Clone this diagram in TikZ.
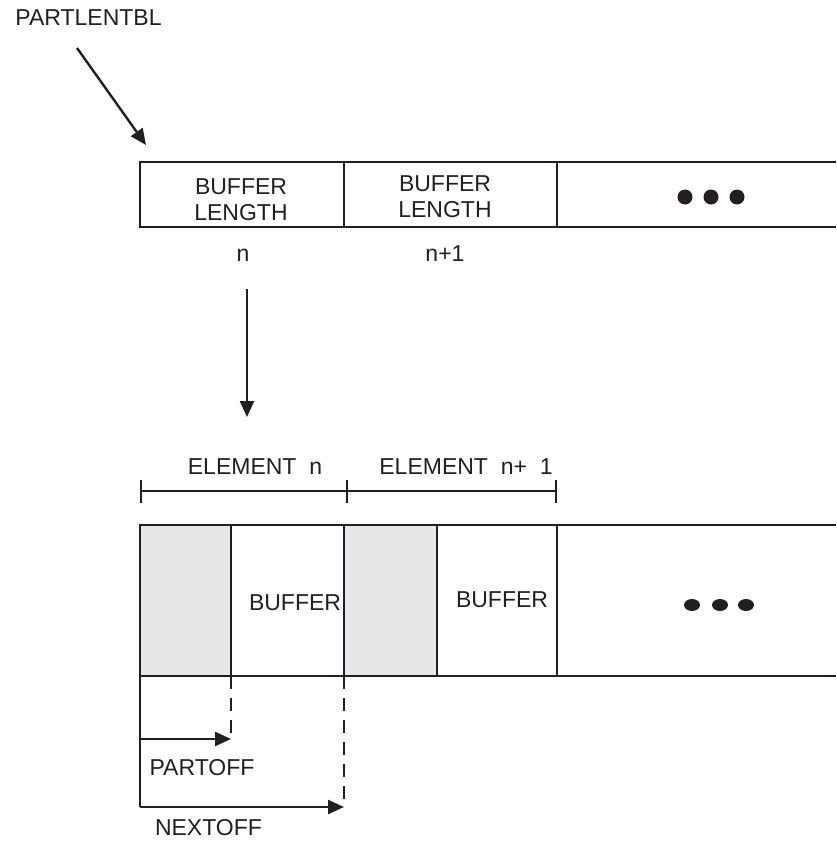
\documentclass[tikz,border=0pt]{standalone}
\usepackage{fontspec}
\setmainfont{Liberation Sans}
\usetikzlibrary{arrows.meta,shapes.geometric}
\definecolor{ink}{HTML}{231F20}
\definecolor{cellgray}{HTML}{E6E7E8}
\tikzset{
  lbl/.style={font=\fontsize{23}{26}\selectfont, inner sep=0pt, align=center, text=ink},
  ln/.style={line width=2.4pt, draw=ink},
  arr/.style={ln, -{Triangle[length=16pt,width=14pt]}},
  dsh/.style={line width=2.4pt, draw=ink, dash pattern=on 13pt off 9pt},
  bigdot/.style={circle, fill=ink, inner sep=0pt, minimum size=15pt},
  flatdot/.style={ellipse, fill=ink, inner sep=0pt, minimum width=16pt, minimum height=12pt},
}
\begin{document}
\begin{tikzpicture}[x=1pt,y=-1pt]
\useasboundingbox (0,0) rectangle (836,843);

% ---- top table ----
\node[lbl] (ptbl) at (88.5,18) {PARTLENTBL};
\coordinate (pa) at (77,48);
\coordinate (pb) at (146,145);
\draw[arr] (pa) -- (pb);

\draw[ln] (836,162) -- (140,162) -- (140,227) -- (836,227);
\draw[ln] (344,162) -- (344,227);
\draw[ln] (557,162) -- (557,227);

\node[lbl] (bl1) at (241,200) {BUFFER\\LENGTH};
\node[lbl] (bl2) at (445,197) {BUFFER\\LENGTH};
\node[bigdot] (td1) at (685,197) {};
\node[bigdot] (td2) at (711,197) {};
\node[bigdot] (td3) at (737,197) {};

\node[lbl, anchor=base] (nlab) at (243,261) {n};
\node[lbl, anchor=base] (n1lab) at (445,261) {n+1};

\coordinate (va) at (247,289);
\coordinate (vb) at (247,417);
\draw[arr] (va) -- (vb);

% ---- element brackets ----
\node[lbl, anchor=base] (el1) at (255,474) {ELEMENT\ \ n};
\node[lbl, anchor=base] (el2) at (466,474) {ELEMENT\ \ n+\ \ 1};
\coordinate (b0) at (141,491);
\coordinate (b1) at (347,491);
\coordinate (b2) at (556,491);
\draw[ln] (b0) -- (b2);
\draw[ln] (141,480) -- (141,503);
\draw[ln] (347,480) -- (347,503);
\draw[ln] (556,480) -- (556,503);

% ---- bottom table ----
\fill[cellgray] (140,525) rectangle (231,676);
\fill[cellgray] (344,525) rectangle (437,676);
\draw[ln] (836,525) -- (140,525) -- (140,676) -- (836,676);
\draw[ln] (231,525) -- (231,676);
\draw[ln] (344,525) -- (344,676);
\draw[ln] (437,525) -- (437,676);
\draw[ln] (557,525) -- (557,676);

\node[lbl] (buf1) at (295,603) {BUFFER};
\node[lbl] (buf2) at (502,600) {BUFFER};
\node[flatdot] (bd1) at (692,605) {};
\node[flatdot] (bd2) at (720,605) {};
\node[flatdot] (bd3) at (746,605) {};

% ---- offsets ----
\coordinate (o0) at (140,676);
\coordinate (o1) at (140,739);
\coordinate (o2) at (140,807);
\coordinate (p1) at (231,739);
\coordinate (p2) at (344,807);
\draw[ln] (o0) -- (o2);
\draw[arr] (o1) -- (p1);
\draw[arr] (o2) -- (p2);
\draw[dsh] (231,676) -- (p1);
\draw[dsh] (344,676) -- (p2);

\node[lbl] (poff) at (202,768) {PARTOFF};
\node[lbl] (noff) at (208.5,828) {NEXTOFF};
\end{tikzpicture}
\end{document}
